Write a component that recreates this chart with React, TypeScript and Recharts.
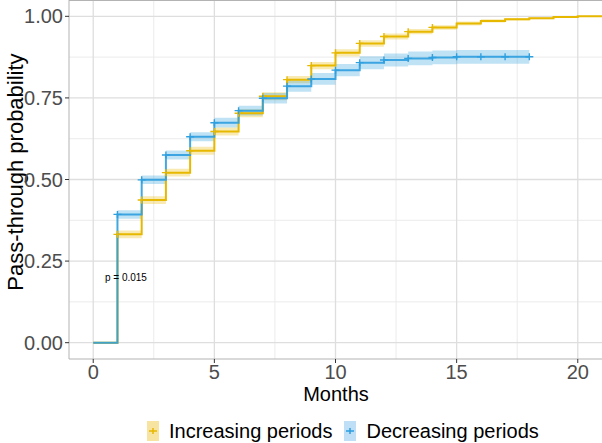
import {
  ComposedChart,
  Line,
  Area,
  XAxis,
  YAxis,
  CartesianGrid,
  Legend,
  ReferenceLine,
  ReferenceDot,
} from "recharts";

const months = [0, 1, 2, 3, 4, 5, 6, 7, 8, 9, 10, 11, 12, 13, 14, 15, 16, 17, 18, 19, 20, 21];

const increasing = [0, 0.332, 0.437, 0.521, 0.588, 0.647, 0.703, 0.755, 0.806, 0.849, 0.888, 0.917, 0.938, 0.953, 0.966, 0.978, 0.986, 0.991, 0.994, 0.998, 1.0, 1.0];
const increasingLow = [0, 0.32, 0.425, 0.509, 0.576, 0.635, 0.691, 0.743, 0.795, 0.838, 0.877, 0.907, 0.929, 0.945, 0.959, 0.972, 0.981, 0.987, 0.991, 0.996, 1.0, 1.0];
const increasingHigh = [0, 0.344, 0.449, 0.533, 0.6, 0.659, 0.715, 0.767, 0.817, 0.86, 0.899, 0.927, 0.947, 0.961, 0.973, 0.984, 0.991, 0.995, 0.997, 1.0, 1.0, 1.0];

const decreasing = [0, 0.393, 0.499, 0.575, 0.631, 0.674, 0.711, 0.749, 0.786, 0.808, 0.835, 0.858, 0.866, 0.871, 0.874, 0.876, 0.876, 0.876, 0.876, null, null, null];
const decreasingLow = [0, 0.38, 0.486, 0.561, 0.617, 0.659, 0.696, 0.733, 0.769, 0.79, 0.816, 0.838, 0.846, 0.85, 0.853, 0.855, 0.855, 0.855, 0.855, null, null, null];
const decreasingHigh = [0, 0.406, 0.512, 0.589, 0.645, 0.689, 0.726, 0.765, 0.803, 0.826, 0.854, 0.878, 0.886, 0.892, 0.895, 0.897, 0.897, 0.897, 0.897, null, null, null];

// months that carry a "+" censor mark
const incCensored = [1, 2, 3, 4, 5, 6, 7, 8, 9, 10, 11, 12, 13, 14];
const decCensored = [1, 2, 3, 4, 5, 6, 7, 8, 9, 10, 11, 12, 13, 14, 15, 16, 17, 18];

const xTicks = [0, 5, 10, 15, 20];
const xMinor = [2.5, 7.5, 12.5, 17.5];
const yTicks = [0, 0.25, 0.5, 0.75, 1];
const yMinor = [0.125, 0.375, 0.625, 0.875];

const YELLOW = "#E7B800";
const BLUE = "#2E9FDF";
const FONT = "'Liberation Sans', Arial, sans-serif";

const chartData = months.map((m, i) => ({
  month: m,
  inc: increasing[i],
  incBand: [increasingLow[i], increasingHigh[i]],
  dec: decreasing[i],
  decBand: decreasing[i] == null ? null : [decreasingLow[i], decreasingHigh[i]],
}));

function censorDot(color: string, marks: number[]) {
  return (props: any) => {
    const { cx, cy, payload, index } = props;
    if (cx == null || cy == null || !marks.includes(payload.month)) {
      return <g key={`d-${index}`} />;
    }
    return (
      <path
        key={`d-${index}`}
        d={`M${cx - 4},${cy}H${cx + 4}M${cx},${cy - 3.5}V${cy + 3.5}`}
        stroke={color}
        strokeWidth={1.4}
        fill="none"
      />
    );
  };
}

function LegendKey({ fill, color }: { fill: string; color: string }) {
  return (
    <svg width={12} height={20} style={{ display: "block" }}>
      <rect x={0} y={0} width={12} height={20} fill={fill} />
      <path d="M2,10H10M6,7V13" stroke={color} strokeWidth={1.5} />
    </svg>
  );
}

function LegendContent() {
  const items = [
    { label: "Increasing periods", fill: "#F7E4A0", color: YELLOW },
    { label: "Decreasing periods", fill: "#BEDFF5", color: BLUE },
  ];
  return (
    <div style={{ display: "flex", alignItems: "center", fontFamily: FONT, fontSize: 20, color: "#000" }}>
      {items.map((it, i) => (
        <div key={it.label} style={{ display: "flex", alignItems: "center", marginLeft: i === 0 ? 0 : 12 }}>
          <LegendKey fill={it.fill} color={it.color} />
          <span style={{ marginLeft: 10, lineHeight: "20px" }}>{it.label}</span>
        </div>
      ))}
    </div>
  );
}

export default function App() {
  return (
    <div style={{ position: "absolute", left: 0, top: 0, width: 602, height: 443, background: "#fff" }}>
      <ComposedChart width={602} height={443} data={chartData} margin={{ top: 0, right: 0, bottom: 0, left: 0 }}>
        <CartesianGrid verticalValues={xMinor} horizontalValues={yMinor} stroke="#EBEBEB" strokeWidth={1} />
        <CartesianGrid verticalValues={xTicks} horizontalValues={yTicks} stroke="#DEDEDE" strokeWidth={1.3} />
        <XAxis
          dataKey="month"
          type="number"
          domain={[-1, 21]}
          ticks={xTicks}
          allowDataOverflow
          height={84}
          axisLine={{ stroke: "#B3B3B3" }}
          tickLine={{ stroke: "#333333" }}
          tickSize={4}
          tick={{ fill: "#4D4D4D", fontSize: 20, fontFamily: FONT }}
          label={() => (
            <text x={336} y={401} textAnchor="middle" fontSize={20} fontFamily={FONT} fill="#000">
              Months
            </text>
          )}
        />
        <YAxis
          type="number"
          domain={[-0.05, 1.05]}
          ticks={yTicks}
          allowDataOverflow
          width={69}
          axisLine={{ stroke: "#B3B3B3" }}
          tickLine={{ stroke: "#333333" }}
          tickSize={4}
          tickFormatter={(v: number) => v.toFixed(2)}
          tick={{ fill: "#4D4D4D", fontSize: 20, fontFamily: FONT }}
          label={() => (
            <text
              x={23}
              y={172}
              transform="rotate(-90 23 172)"
              textAnchor="middle"
              fontSize={22}
              fontFamily={FONT}
              fill="#000"
            >
              Pass-through probability
            </text>
          )}
        />
        <ReferenceLine y={1.05} stroke="#B3B3B3" strokeWidth={2} ifOverflow="extendDomain" />
        <Area
          dataKey="incBand"
          type="stepAfter"
          fill={YELLOW}
          fillOpacity={0.3}
          stroke="none"
          isAnimationActive={false}
          legendType="none"
        />
        <Area
          dataKey="decBand"
          type="stepAfter"
          fill={BLUE}
          fillOpacity={0.3}
          stroke="none"
          isAnimationActive={false}
          legendType="none"
        />
        <Line
          dataKey="inc"
          type="stepAfter"
          stroke={YELLOW}
          strokeWidth={2}
          dot={censorDot(YELLOW, incCensored)}
          activeDot={false}
          isAnimationActive={false}
        />
        <Line
          dataKey="dec"
          type="stepAfter"
          stroke={BLUE}
          strokeOpacity={0.9}
          strokeWidth={2}
          dot={censorDot(BLUE, decCensored)}
          activeDot={false}
          isAnimationActive={false}
        />
        <ReferenceDot
          x={1.35}
          y={0.2}
          r={0}
          label={{ value: "p = 0.015", position: "center", fontSize: 10, fontFamily: FONT, fill: "#000" }}
        />
        <Legend
          layout="horizontal"
          verticalAlign="middle"
          align="center"
          wrapperStyle={{ top: 421, left: 147, width: "auto" }}
          content={() => <LegendContent />}
        />
      </ComposedChart>
    </div>
  );
}
